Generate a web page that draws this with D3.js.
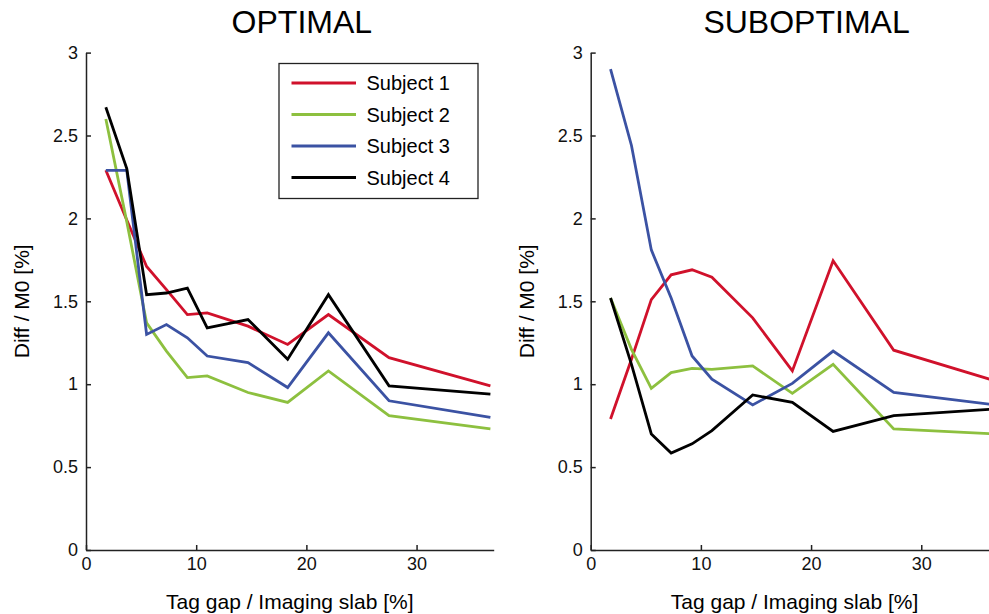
<!DOCTYPE html>
<html>
<head>
<meta charset="utf-8">
<script src="https://cdn.jsdelivr.net/npm/d3@7"></script>
<style>
  body { margin: 0; background: #fff; }
  svg { display: block; font-family: "Liberation Sans", Arial, Helvetica, sans-serif; }
  .axis path, .axis line { stroke: #222; stroke-width: 1.5; }
  .axis text { font-size: 18px; fill: #111; }
</style>
</head>
<body>
<div id="chart_div"></div>
<script>
// Tag gap / imaging slab [%]
var gaps = [1.8, 3.7, 5.5, 7.3, 9.2, 11.0, 14.7, 18.3, 22.0, 27.5, 36.7];

var subjects = ["Subject 1", "Subject 2", "Subject 3", "Subject 4"];
var colors = ["#d0112b", "#8dc03f", "#3b52a3", "#000000"];

// OPTIMAL, Diff / M0 [%]
var opt1 = [2.29, 1.99, 1.71, 1.57, 1.42, 1.43, 1.35, 1.24, 1.42, 1.16, 0.99];
var opt2 = [2.60, 1.98, 1.37, 1.20, 1.04, 1.05, 0.95, 0.89, 1.08, 0.81, 0.73];
var opt3 = [2.29, 2.29, 1.30, 1.36, 1.28, 1.17, 1.13, 0.98, 1.31, 0.90, 0.80];
var opt4 = [2.67, 2.30, 1.54, 1.55, 1.58, 1.34, 1.39, 1.15, 1.54, 0.99, 0.94];

// SUBOPTIMAL
var sub1 = [0.79, 1.15, 1.51, 1.66, 1.69, 1.645, 1.40, 1.08, 1.745, 1.205, 1.02];
var sub2 = [1.52, 1.21, 0.975, 1.07, 1.095, 1.09, 1.11, 0.945, 1.12, 0.73, 0.70];
var sub3 = [2.90, 2.44, 1.81, 1.52, 1.17, 1.03, 0.875, 1.005, 1.20, 0.95, 0.875];
var sub4 = [1.52, 1.12, 0.70, 0.585, 0.64, 0.72, 0.935, 0.89, 0.715, 0.81, 0.85];

var xTicks = [0, 10, 20, 30];
var yTicks = [0, 0.5, 1, 1.5, 2, 2.5, 3];

var width = 989, height = 614;

var svg = d3.select("#chart_div").append("svg")
    .attr("width", width)
    .attr("height", height);

function panel(left, title, series, showLegend) {
  var plotW = 407.7, top = 52.6, bottom = 550;

  var x = d3.scaleLinear().domain([0, 37]).range([left, left + plotW]);
  var y = d3.scaleLinear().domain([0, 3]).range([bottom, top]);

  var g = svg.append("g");

  // lines
  var line = d3.line()
      .x(function(d, i) { return x(gaps[i]); })
      .y(function(d) { return y(d); });

  series.forEach(function(s, i) {
    g.append("path")
      .datum(s)
      .attr("fill", "none")
      .attr("stroke", colors[i])
      .attr("stroke-width", 2.8)
      .attr("stroke-linejoin", "miter")
      .attr("d", line);
  });

  // axes, ticks pointing inward
  g.append("g")
      .attr("class", "axis")
      .attr("transform", "translate(0," + bottom + ")")
      .call(d3.axisBottom(x).tickValues(xTicks).tickSizeInner(-5).tickSizeOuter(0).tickPadding(7));

  g.append("g")
      .attr("class", "axis")
      .attr("transform", "translate(" + left + ",0)")
      .call(d3.axisLeft(y).tickValues(yTicks).tickSizeInner(-5).tickSizeOuter(0).tickPadding(8)
        .tickFormat(function(d) { return d; }));

  // title
  g.append("text")
      .attr("x", left + plotW / 2 + 12)
      .attr("y", 33)
      .attr("text-anchor", "middle")
      .style("font-size", "32px")
      .text(title);

  // axis labels
  g.append("text")
      .attr("x", left + plotW / 2)
      .attr("y", 609)
      .attr("text-anchor", "middle")
      .style("font-size", "21px")
      .text("Tag gap / Imaging slab [%]");

  g.append("text")
      .attr("transform", "translate(" + (left - 57) + "," + ((top + bottom) / 2) + ") rotate(-90)")
      .attr("text-anchor", "middle")
      .style("font-size", "21px")
      .text("Diff / M0 [%]");

  if (showLegend) {
    var lg = g.append("g").attr("transform", "translate(279,63.5)");
    lg.append("rect")
      .attr("width", 199)
      .attr("height", 135)
      .attr("fill", "#fff")
      .attr("stroke", "#222")
      .attr("stroke-width", 1.3);
    subjects.forEach(function(name, i) {
      var ry = 19.5 + i * 31.5;
      lg.append("line")
        .attr("x1", 12.5).attr("x2", 77)
        .attr("y1", ry).attr("y2", ry)
        .attr("stroke", colors[i])
        .attr("stroke-width", 2.8);
      lg.append("text")
        .attr("x", 87.5)
        .attr("y", ry + 7)
        .style("font-size", "20px")
        .text(name);
    });
  }
}

panel(86, "OPTIMAL", [opt1, opt2, opt3, opt4], true);
panel(590.7, "SUBOPTIMAL", [sub1, sub2, sub3, sub4], false);
</script>
</body>
</html>
